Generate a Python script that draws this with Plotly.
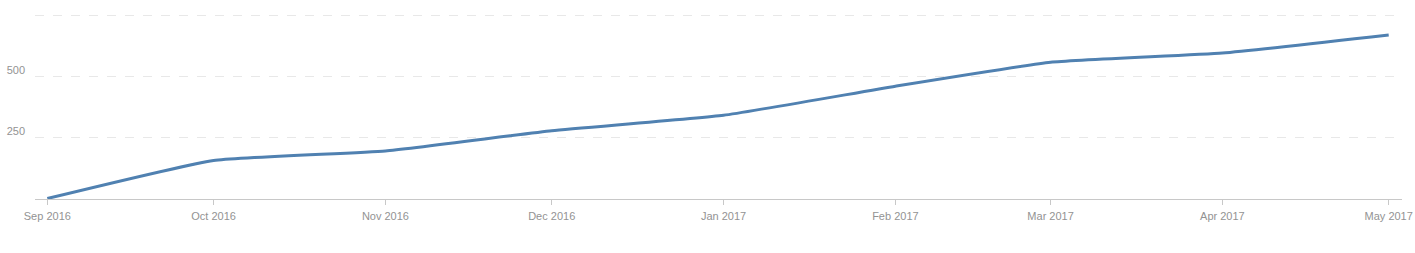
import plotly.graph_objects as go

months = ["2016-09-01", "2016-10-01", "2016-11-01", "2016-12-01", "2017-01-01",
          "2017-02-01", "2017-03-01", "2017-04-01", "2017-05-01"]
values = [2, 158, 197, 280, 343, 462, 560, 598, 672]

x_tick_vals = months
x_tick_text = ["Sep 2016", "Oct 2016", "Nov 2016", "Dec 2016", "Jan 2017",
               "Feb 2017", "Mar 2017", "Apr 2017", "May 2017"]
y_tick_vals = [0, 250, 500, 750]
y_tick_text = ["", "250", "500", ""]

fig = go.Figure()
fig.add_trace(go.Scatter(
    x=months, y=values, mode="lines",
    line=dict(color="#5081b1", width=3, shape="spline", smoothing=0.4),
    hoverinfo="skip", showlegend=False,
))

font = dict(family="Liberation Sans, Arial, sans-serif", size=11, color="#939393")

fig.update_layout(
    width=1415, height=253,
    margin=dict(l=35, r=13, t=14, b=54),
    paper_bgcolor="white", plot_bgcolor="white",
    font=font,
    xaxis=dict(
        type="date",
        range=["2016-08-29 18:40", "2017-05-03 09:36"],
        tickvals=x_tick_vals, ticktext=x_tick_text,
        showgrid=False, zeroline=False,
        showline=True, linecolor="#c8c8c8", linewidth=1,
        ticks="outside", ticklen=5, tickcolor="#c8c8c8", tickwidth=1,
        ticklabelstandoff=2,
        tickfont=font, fixedrange=True, automargin=False,
    ),
    yaxis=dict(
        range=[0, 758],
        tickvals=y_tick_vals, ticktext=y_tick_text,
        showgrid=True, gridcolor="#e8e8e8", griddash="dash", gridwidth=1,
        zeroline=False, showline=False, ticks="",
        ticklabelstandoff=9, ticklabelshift=-7,
        tickfont=font, fixedrange=True, automargin=False,
    ),
)

fig.write_html("out.html")
